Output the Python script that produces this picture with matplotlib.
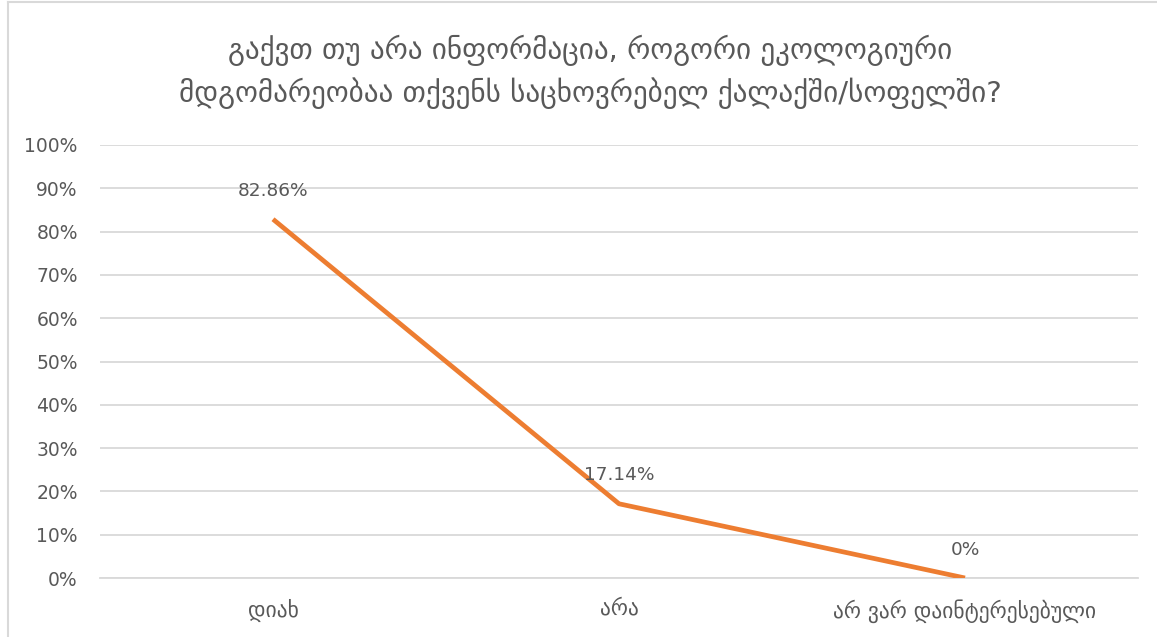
import matplotlib.pyplot as plt
from matplotlib.lines import Line2D
from matplotlib.ticker import MultipleLocator, FuncFormatter

# survey answers and their shares (%)
categories = ['დიახ', 'არა', 'არ ვარ დაინტერესებული']
shares = [82.86, 17.14, 0]
share_labels = ['82.86%', '17.14%', '0%']
title = ('გაქვთ თუ არა ინფორმაცია, როგორი ეკოლოგიური\n'
         'მდგომარეობაა თქვენს საცხოვრებელ ქალაქში/სოფელში?')

text_color = '#595959'
grid_color = '#D9D9D9'
line_color = '#ED7D31'

plt.rcParams['font.family'] = ['DejaVu Sans']

fig = plt.figure(figsize=(11.57, 6.37), dpi=100)
ax = fig.add_axes([100 / 1157, 1 - 578 / 637, 1038 / 1157, 433 / 637])

x = list(range(len(categories)))
ax.plot(x, shares, color=line_color, linewidth=3.4, solid_capstyle='butt', zorder=3)

for xi, v, lab in zip(x, shares, share_labels):
    ax.annotate(lab, (xi, v), xytext=(0, 14), textcoords='offset points',
                ha='center', va='bottom', fontsize=13.3, color=text_color)

ax.set_xlim(-0.5, 2.5)
ax.set_ylim(0, 100)
ax.yaxis.set_major_locator(MultipleLocator(10))
ax.yaxis.set_major_formatter(FuncFormatter(lambda v, p: f'{v:.0f}%'))
ax.set_xticks(x)
ax.set_xticklabels(categories)
ax.grid(axis='y', color=grid_color, linewidth=1.3)
ax.set_axisbelow(True)
for s in ['top', 'right', 'left']:
    ax.spines[s].set_visible(False)
ax.spines['bottom'].set_color(grid_color)
ax.spines['bottom'].set_linewidth(1.3)
ax.tick_params(axis='both', length=0, colors=text_color)
ax.tick_params(axis='y', pad=16, labelsize=13.5)
ax.tick_params(axis='x', pad=15, labelsize=15.5)

fig.text(590 / 1157, 1 - 72 / 637, title, ha='center', va='center',
         fontsize=21, color=text_color, linespacing=1.45)

# chart frame
fig.add_artist(Line2D([8 / 1157, 8 / 1157], [0, 1 - 2 / 637], color=grid_color,
                      linewidth=1.5, transform=fig.transFigure))
fig.add_artist(Line2D([8 / 1157, 1], [1 - 2 / 637, 1 - 2 / 637], color=grid_color,
                      linewidth=1.5, transform=fig.transFigure))

fig.savefig('out.png', dpi=100)
